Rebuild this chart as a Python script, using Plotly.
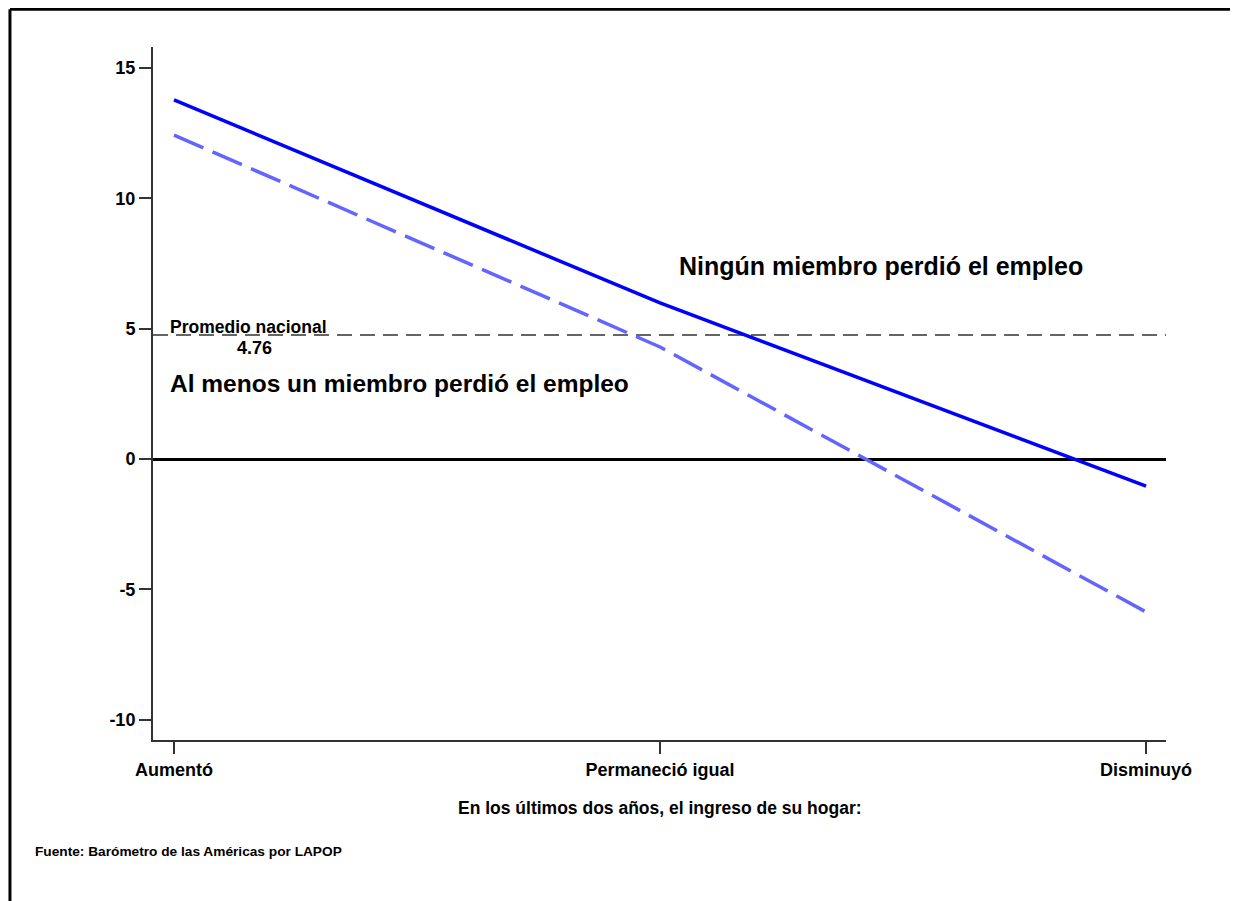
import plotly.graph_objects as go

categorias = ["Aumentó", "Permaneció igual", "Disminuyó"]
ninguno = [13.78, 5.99, -1.04]        # Ningún miembro perdió el empleo
al_menos_uno = [12.43, 4.30, -5.87]   # Al menos un miembro perdió el empleo
promedio = 4.76
y_ticks = [-10, -5, 0, 5, 10, 15]
y_ticktext = ["-10", "-5", "0", "5", "10", "15"]

FONT = "Liberation Sans, Arial, sans-serif"

fig = go.Figure()
fig.add_trace(go.Scatter(x=categorias, y=al_menos_uno, mode="lines",
                         line=dict(color="#6464ff", width=3.5, dash="32px,10px")))
fig.add_trace(go.Scatter(x=categorias, y=ninguno, mode="lines",
                         line=dict(color="#0000ff", width=3.5)))

# promedio nacional
fig.add_shape(type="line", xref="x domain", yref="y", x0=0, x1=1, y0=promedio, y1=promedio,
              line=dict(color="#333333", width=1.5, dash="15px,8px"), layer="below")

# marco exterior (top edge sits just inside the figure)
fig.add_shape(type="line", xref="paper", yref="paper", x0=-0.1412, x1=-0.1412, y0=-0.35, y1=1.0545,
              line=dict(color="black", width=3))
fig.add_shape(type="line", xref="paper", yref="paper", x0=-0.1412, x1=1.2, y0=1.0545, y1=1.0545,
              line=dict(color="black", width=3))

fig.add_annotation(x=-0.005, y=promedio, xref="x", yref="y", text="Promedio nacional",
                   showarrow=False, xanchor="left", yanchor="bottom", xshift=-4, yshift=-4,
                   font=dict(family=FONT, size=17.5, color="black", weight="bold"))
fig.add_annotation(x=0.165, y=promedio, xref="x", yref="y", text=f"{promedio:.2f}",
                   showarrow=False, xanchor="center", yanchor="top", yshift=-1,
                   font=dict(family=FONT, size=18, color="black", weight="bold"))
fig.add_annotation(x=1.043, y=7.4, xref="x", yref="y", text="Ningún miembro perdió el empleo",
                   showarrow=False, xanchor="left", yanchor="middle", xshift=-4,
                   font=dict(family=FONT, size=25, color="black", weight="bold"))
fig.add_annotation(x=-0.004, y=2.9, xref="x", yref="y", text="Al menos un miembro perdió el empleo",
                   showarrow=False, xanchor="left", yanchor="middle", xshift=-4,
                   font=dict(family=FONT, size=24.5, color="black", weight="bold"))
fig.add_annotation(x=0.5, y=-0.098, xref="paper", yref="paper",
                   text="En los últimos dos años, el ingreso de su hogar:",
                   showarrow=False, xanchor="center", yanchor="middle",
                   font=dict(family=FONT, size=17.5, color="black", weight="bold"))
fig.add_annotation(x=-0.117, y=-0.161, xref="paper", yref="paper",
                   text="Fuente: Barómetro de las Américas por LAPOP",
                   showarrow=False, xanchor="left", yanchor="middle", xshift=-1,
                   font=dict(family=FONT, size=13.7, color="black", weight="bold"))

fig.update_xaxes(type="category", range=[-0.0432, 2.041], showline=True, linecolor="#333333",
                 linewidth=2, ticks="outside", ticklen=12, tickwidth=1.5, tickcolor="#333333",
                 showgrid=False, zeroline=False,
                 tickfont=dict(family=FONT, size=18, color="black", weight="bold"))
fig.update_yaxes(range=[-10.78, 15.81], tickvals=y_ticks, ticktext=y_ticktext, showline=True,
                 linecolor="#333333", linewidth=2, ticks="outside", ticklen=12, tickwidth=1.5,
                 tickcolor="#333333", showgrid=False, zeroline=True, zerolinecolor="black",
                 zerolinewidth=2.5,
                 tickfont=dict(family=FONT, size=18, color="black", weight="bold"))

# the page adds an 8px body margin, so the plot area is shifted back by that
fig.update_layout(width=1238, height=901, showlegend=False,
                  margin=dict(l=145, r=80, t=39, b=169),
                  plot_bgcolor="white", paper_bgcolor="white")

fig.write_html("out.html")
